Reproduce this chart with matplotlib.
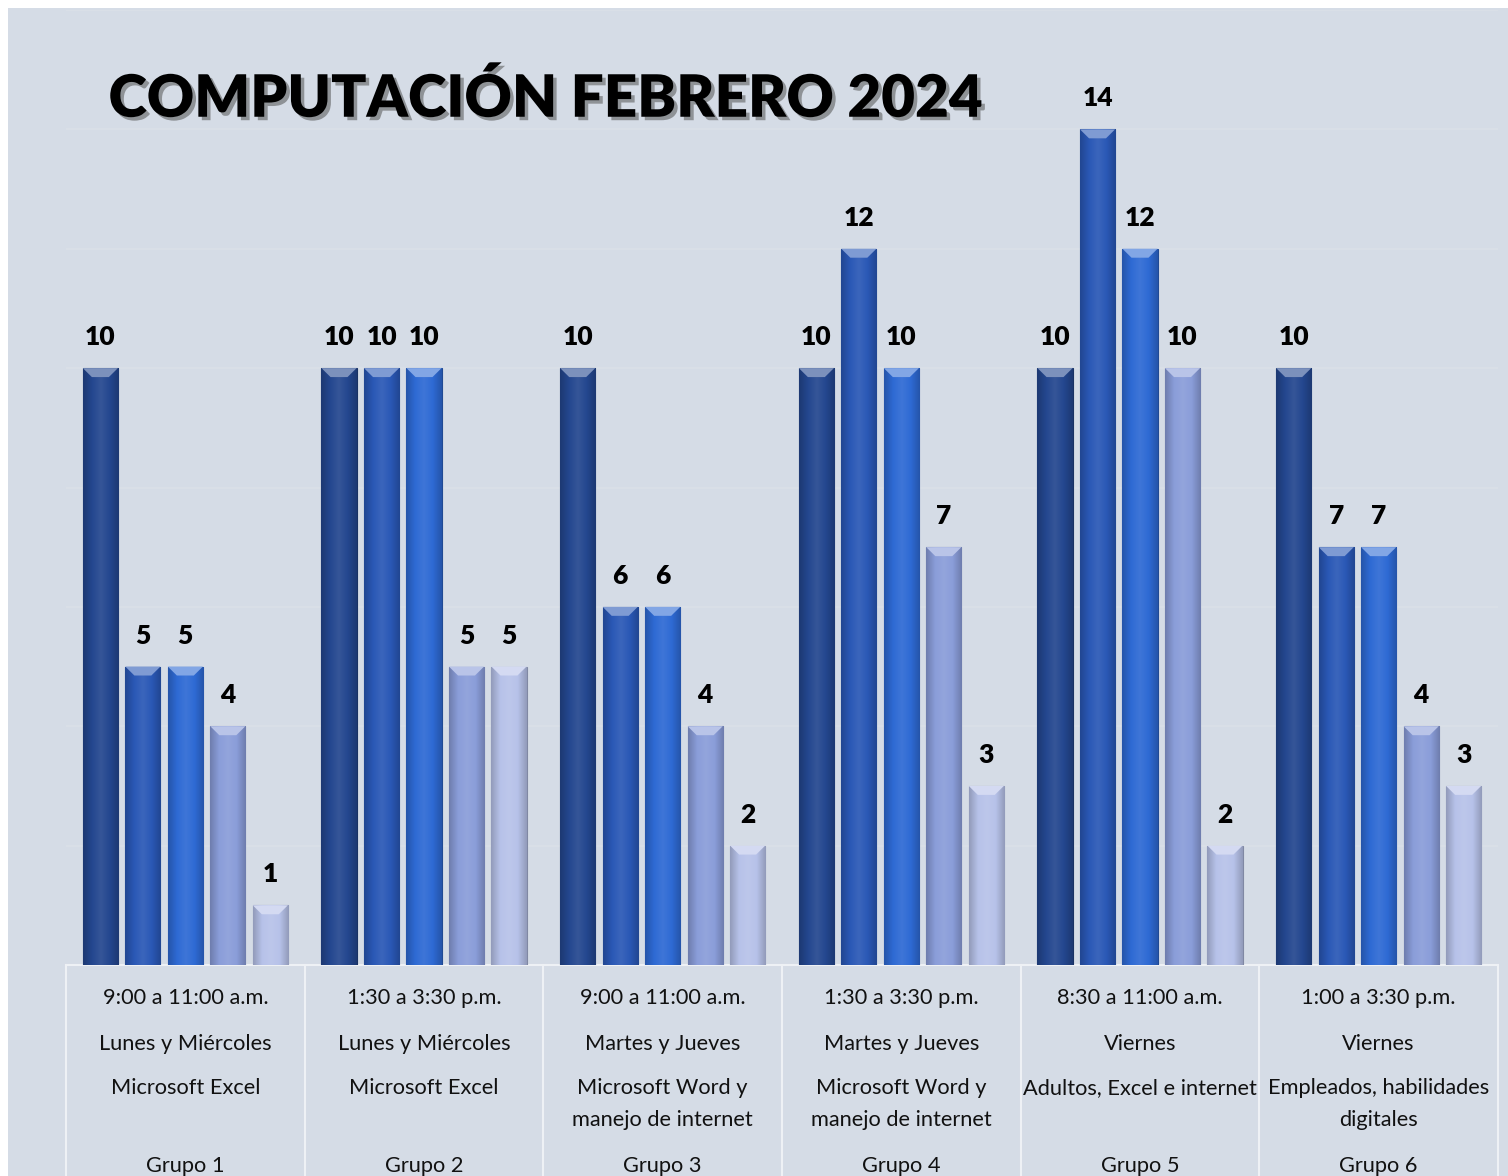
import matplotlib.pyplot as plt
import matplotlib.patheffects as pe
import numpy as np
from matplotlib.patches import Rectangle, Polygon
from matplotlib.colors import LinearSegmentedColormap, to_rgb

# values for each group (5 series per group)
grupos = ['Grupo 1', 'Grupo 2', 'Grupo 3', 'Grupo 4', 'Grupo 5', 'Grupo 6']
horarios = ['9:00 a 11:00 a.m.', '1:30 a 3:30 p.m.', '9:00 a 11:00 a.m.',
            '1:30 a 3:30 p.m.', '8:30 a 11:00 a.m.', '1:00 a 3:30 p.m.']
dias = ['Lunes y Miércoles', 'Lunes y Miércoles', 'Martes y Jueves',
        'Martes y Jueves', 'Viernes', 'Viernes']
cursos = ['Microsoft Excel', 'Microsoft Excel', 'Microsoft Word y\nmanejo de internet',
          'Microsoft Word y\nmanejo de internet', 'Adultos, Excel e internet',
          'Empleados, habilidades\ndigitales']
serie1 = [10, 10, 10, 10, 10, 10]
serie2 = [5, 10, 6, 12, 14, 7]
serie3 = [5, 10, 6, 10, 12, 7]
serie4 = [4, 5, 4, 7, 10, 4]
serie5 = [1, 5, 2, 3, 2, 3]

series = [serie1, serie2, serie3, serie4, serie5]
colors = ['#24478f', '#2a58b6', '#2e6ad4', '#8a9dd9', '#b7c2e9']

bg = '#d5dce6'
fig = plt.figure(figsize=(15.08, 11.76), dpi=100, facecolor='white')
fig.patches.append(Rectangle((8 / 1508, 0), 1, 1 - 8 / 1176, transform=fig.transFigure,
                             facecolor=bg, edgecolor='none', zorder=-10))
ax = fig.add_axes([66 / 1508, 1 - 965 / 1176, (1498 - 66) / 1508, 955 / 1176])
ax.set_facecolor('none')
ax.set_xlim(-0.5, 5.5)
ax.set_ylim(0, 16)
for s in ax.spines.values():
    s.set_visible(False)
ax.set_xticks([])
ax.set_yticks([])
for g in range(2, 17, 2):
    ax.axhline(g, color='#dbe0e8', lw=1.2, zorder=0)

pitch = 0.178
width = 0.147
x = np.arange(len(grupos))


def shade(c, f):
    r, g, b = to_rgb(c)
    if f < 1:
        return (r * f, g * f, b * f)
    return (r + (1 - r) * (f - 1), g + (1 - g) * (f - 1), b + (1 - b) * (f - 1))


for j, (vals, c) in enumerate(zip(series, colors)):
    xs = x + (j - 2) * pitch
    bars = ax.bar(xs, vals, width=width, color=c, edgecolor=shade(c, 0.7), lw=0.8, zorder=2)
    cmap = LinearSegmentedColormap.from_list('g', [shade(c, 0.8), c, shade(c, 1.08), c, shade(c, 0.8)])
    grad = np.linspace(0, 1, 64).reshape(1, -1)
    for b, xv, v in zip(bars, xs, vals):
        im = ax.imshow(grad, cmap=cmap, aspect='auto', extent=(xv - width / 2, xv + width / 2, 0, v),
                       zorder=2.5, interpolation='bicubic')
        im.set_clip_path(b)
        # bevel on top of the bar
        dx, dy = 0.038, 0.15
        top = Polygon([(xv - width / 2, v), (xv + width / 2, v),
                       (xv + width / 2 - dx, v - dy), (xv - width / 2 + dx, v - dy)],
                      closed=True, facecolor=shade(c, 1.4), edgecolor='none', zorder=3)
        ax.add_patch(top)
        ax.annotate(str(v), (xv, v), xytext=(0, 22.3), textcoords='offset points',
                    ha='center', va='center', fontsize=19, fontweight='heavy',
                    family='Lato', color='black', zorder=4)
    ax.set_xlim(-0.5, 5.5)
    ax.set_ylim(0, 16)

# category table below the bars
tr = ax.get_xaxis_transform()
ybot = -(1176 - 965) / 955
for b in np.arange(-0.5, 6, 1):
    ax.plot([b, b], [0, ybot], color='#eef1f5', lw=1.5, transform=tr, clip_on=False)
ax.plot([-0.5, 5.5], [0, 0], color='#eef1f5', lw=1.5, transform=tr, clip_on=False, zorder=1)


def ay(ypix):
    return -(ypix - 965) / 955


for i in range(len(grupos)):
    kw = dict(transform=tr, ha='center', fontsize=15.7, family='Lato', color='#111111', clip_on=False)
    ax.text(i, ay(998), horarios[i], va='center', **kw)
    ax.text(i, ay(1044), dias[i], va='center', **kw)
    ax.text(i, ay(1078), cursos[i], va='top', linespacing=1.75, **kw)
    ax.text(i, ay(1166), grupos[i], va='center', **kw)

fig.text(546 / 1508, 1 - 98 / 1176, 'COMPUTACIÓN FEBRERO 2024', ha='center', va='center',
         fontsize=42, fontweight='heavy', family='Lato', color='black',
         path_effects=[pe.withSimplePatchShadow(offset=(2.5, -2.5), shadow_rgbFace='#555555', alpha=0.55)])

fig.savefig('out.png', dpi=100, facecolor='white')
